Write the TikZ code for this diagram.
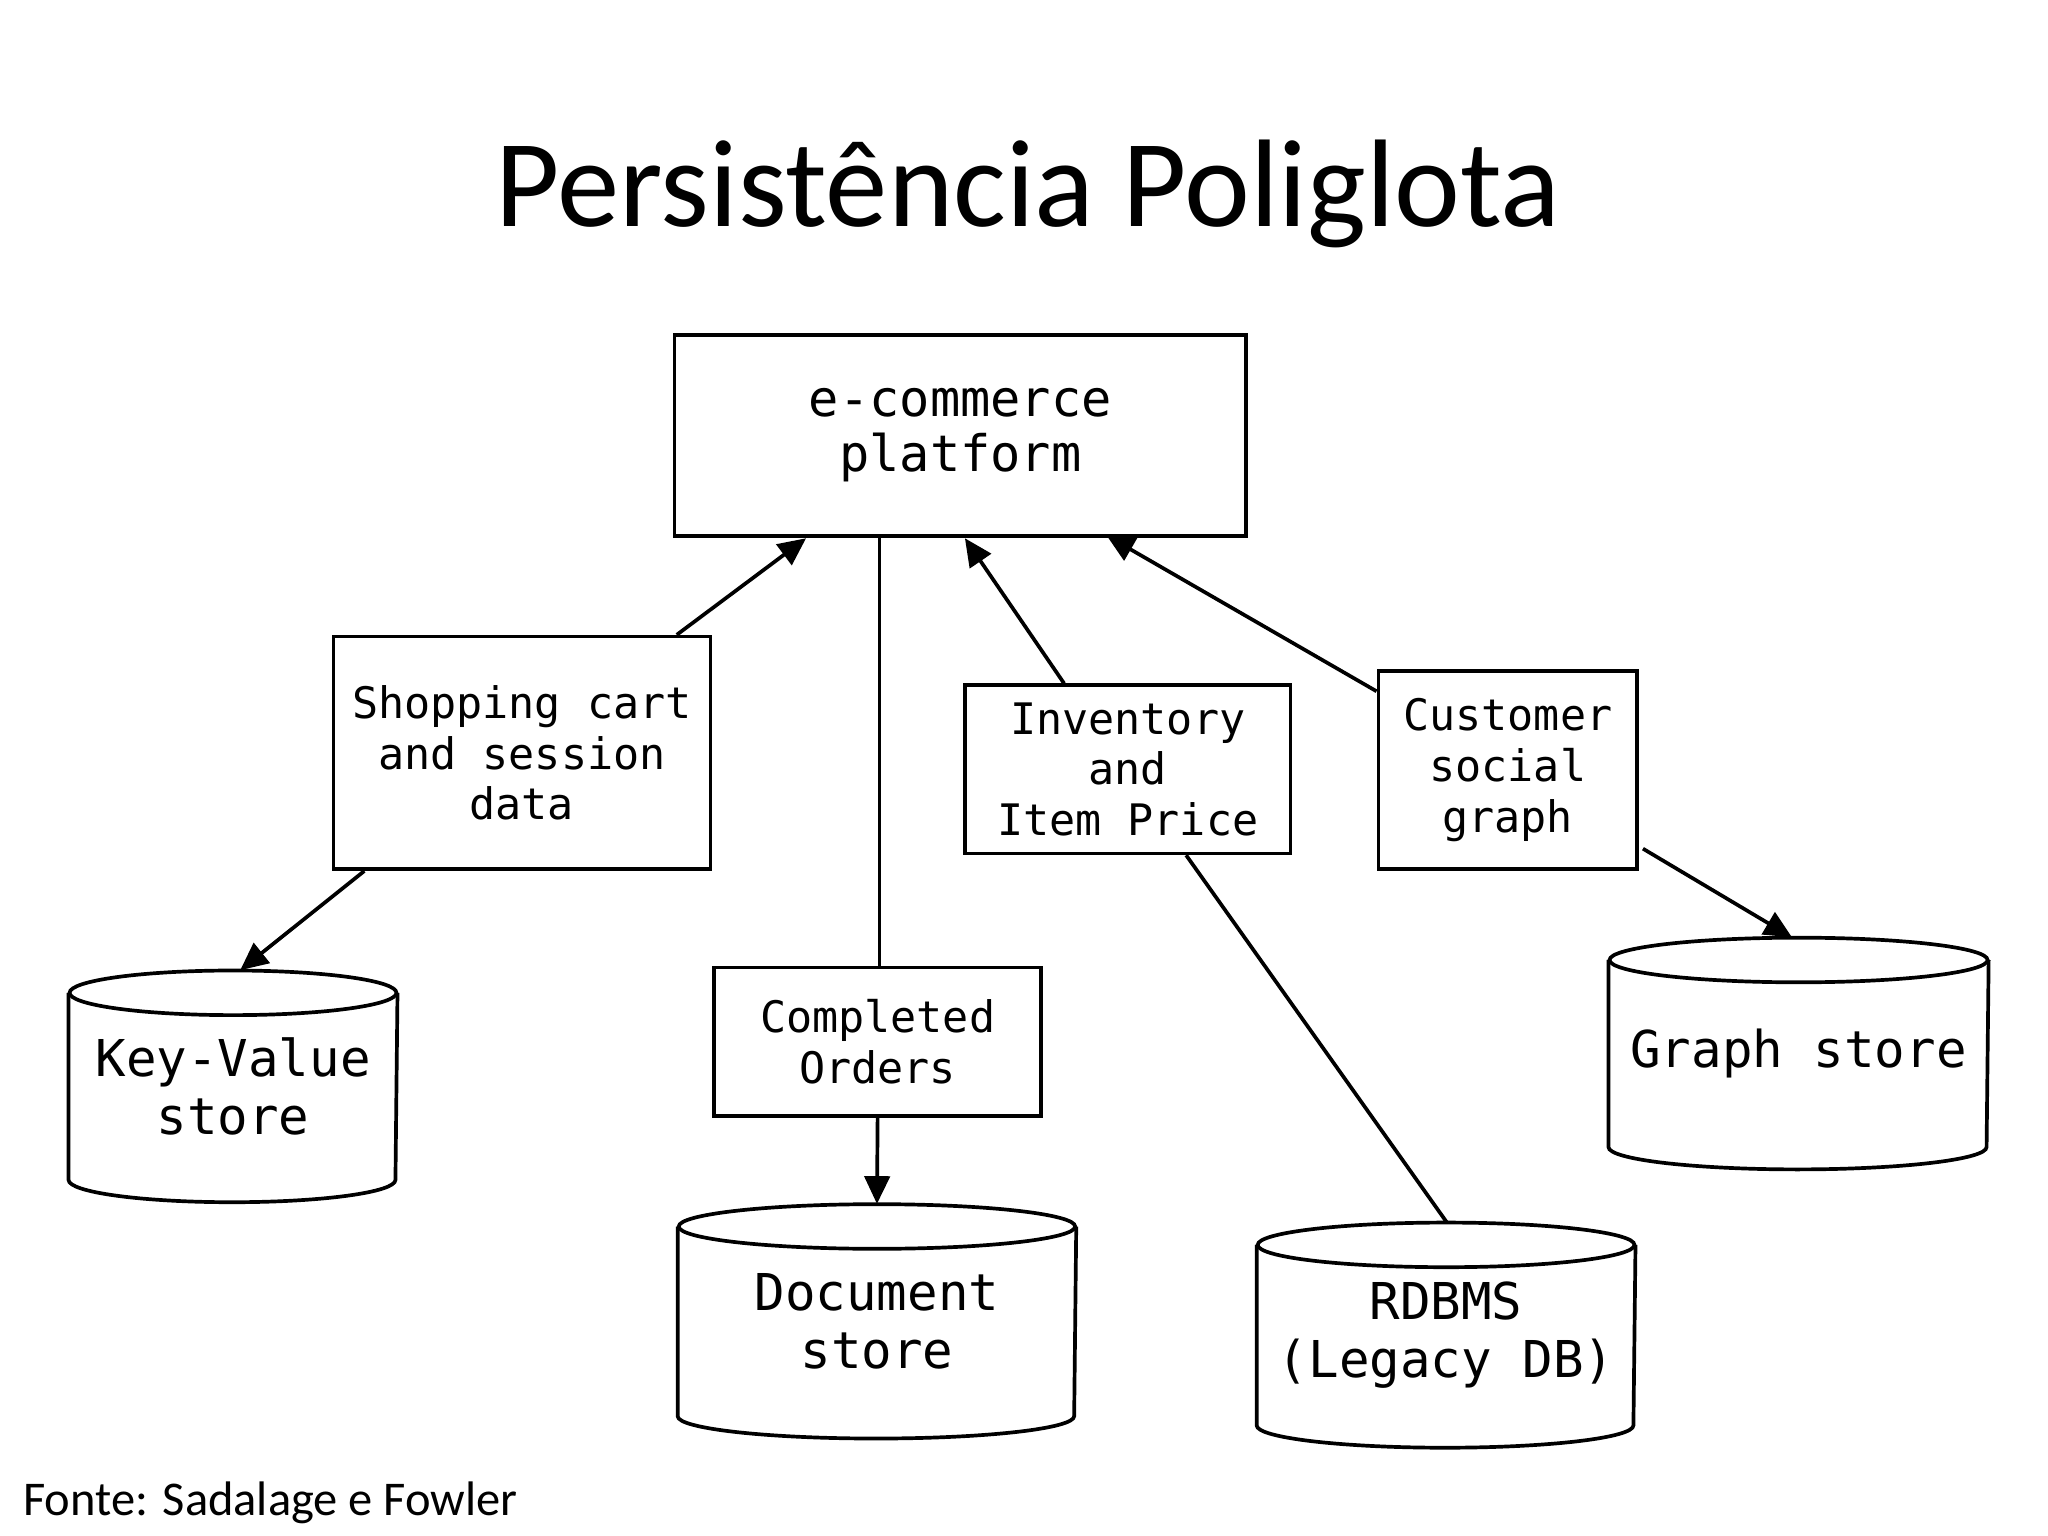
\documentclass[tikz,border=0pt]{standalone}
\usepackage{fontspec}
\setmainfont{Carlito}
\newfontfamily\monof{DejaVu Sans Mono}
\usetikzlibrary{calc,arrows.meta}
\tikzset{
 boxn/.style={draw,line width=0.8pt,align=center,font=\monof\fontsize{9.4}{11}\selectfont,inner sep=0pt},
 cyltxt/.style={align=center,font=\monof\fontsize{11}{12.5}\selectfont,inner sep=0pt},
 arr/.style={line width=0.8pt,-{Triangle[length=6pt,width=5.5pt]}},
 ln/.style={line width=0.8pt},
}
\newcommand\mycyl[3]{% name, width units, ry units
 \draw[ln] ($(#1.north west)+(0,#3)$) -- ($(#1.south west)+(0,-#3)$)
   arc[start angle=180,end angle=0,x radius=#2/2,y radius=#3]
   -- ($(#1.north east)+(0,#3)$);
 \draw[ln] ($(#1.north)+(0,#3)$) ellipse[x radius=#2/2,y radius=#3];
}
\begin{document}
\begin{tikzpicture}[x=0.01cm,y=-0.01cm]
\fill[white] (0,0) rectangle (1560,1170);
\useasboundingbox (0,0) rectangle (1560,1170);
\node[font=\fontsize{27}{32}\selectfont] (title) at (783,148) {Persistência Poliglota};
\node[anchor=west,inner sep=0pt,font=\fontsize{10.5}{12}\selectfont] (src) at (17,1145) {Fonte: Sadalage e Fowler};

\node[boxn,minimum width=4.35cm,minimum height=1.53cm,font=\monof\fontsize{10.9}{12}\selectfont] (ec) at (731.5,331.5) {e-commerce\\platform};

\node[boxn,minimum width=2.87cm,minimum height=1.77cm] (shop) at (397.5,573.5) {Shopping cart\\and session\\data};
\node[boxn,minimum width=2.48cm,minimum height=1.28cm] (inv) at (859,586) {Inventory\\and\\Item Price};
\node[boxn,minimum width=1.97cm,minimum height=1.51cm] (cust) at (1148.5,586.5) {Customer\\social\\graph};
\node[boxn,minimum width=2.49cm,minimum height=1.13cm] (comp) at (668.5,793.5) {Completed\\Orders};

\node[cyltxt,minimum width=2.49cm,minimum height=1.75cm] (kv) at (177.5,827.5) {Key-Value\\store};
\mycyl{kv}{249}{17}
\node[cyltxt,minimum width=3.02cm,minimum height=1.77cm] (doc) at (668,1006.5) {Document\\store};
\mycyl{doc}{302}{17}
\node[cyltxt,minimum width=2.87cm,minimum height=1.70cm] (rdb) at (1101.5,1017) {RDBMS\\(Legacy DB)};
\mycyl{rdb}{287}{17}
\node[cyltxt,minimum width=2.88cm,minimum height=1.75cm] (gr) at (1370,802.5) {Graph store};
\mycyl{gr}{288}{17}

\draw[arr] ($(shop.north west)+(263,0)$) -- (614,410);
\draw[arr] ($(shop.south west)+(25,0)$) -- (183,739);
\draw[ln] (670,408) -- (comp.north -| 670,0);
\draw[arr] (comp.south) -- (668,917);
\draw[arr] ($(inv.north west)+(77,0)$) -- (735,410);
\draw[ln] ($(inv.south west)+(170,0)$) -- (1102,931);
\draw[arr] ($(cust.north west)+(0,17)$) -- (843,408);
\draw[arr] ($(cust.south east)+(3,-17)$) -- (1365,714);
\end{tikzpicture}
\end{document}
